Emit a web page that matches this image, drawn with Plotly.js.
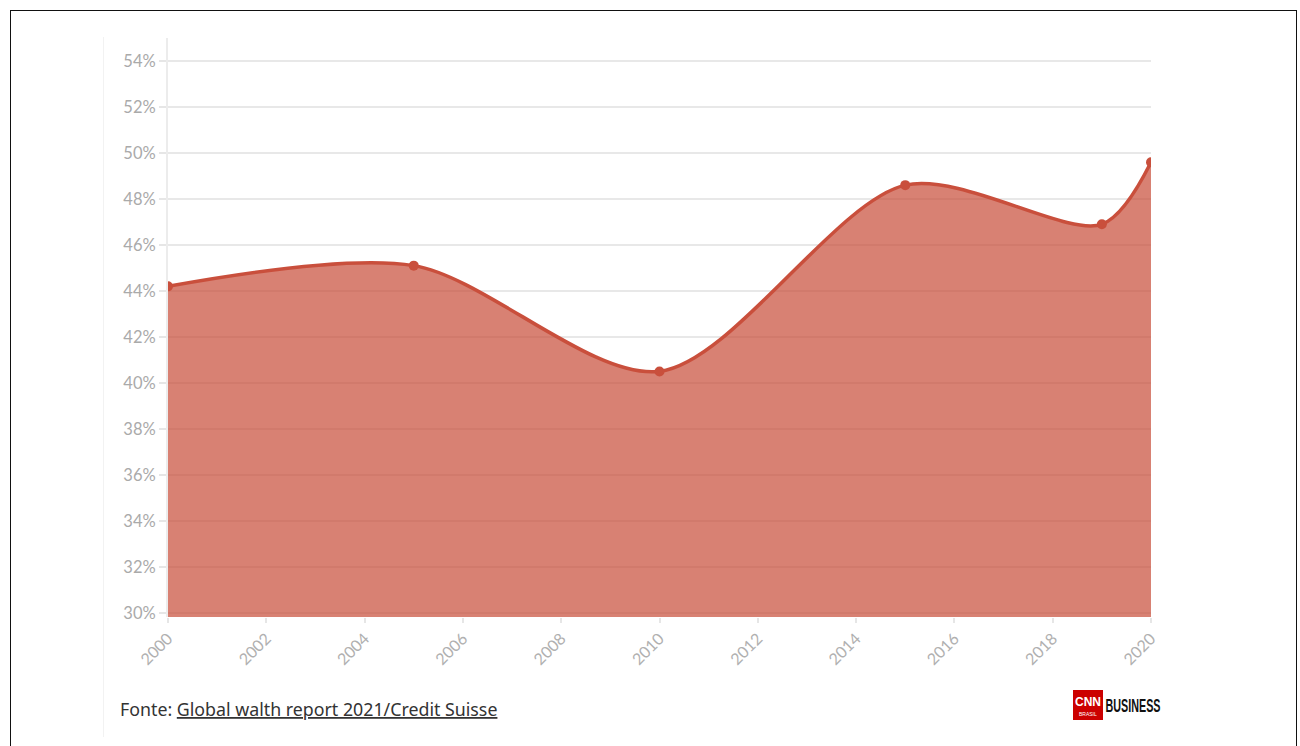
<!DOCTYPE html>
<html>
<head>
<meta charset="utf-8">
<script src="https://cdn.plot.ly/plotly-3.0.1.min.js"></script>
<style>
html,body{margin:0;padding:0;background:#fff;}
#frame{position:absolute;left:10px;top:10px;width:1287px;height:760px;border:1.5px solid #111;box-sizing:border-box;}
#guide{position:absolute;left:103px;top:37px;width:1px;height:700px;background:#f2f2f2;}
#chart{position:absolute;left:0;top:0;width:1300px;height:746px;}
</style>
</head>
<body>
<div id="frame"></div>
<div id="guide"></div>
<div id="chart"></div>
<script>
const years = [2000, 2005, 2010, 2015, 2019, 2020];
const shares = [44.2, 45.1, 40.5, 48.6, 46.9, 49.6];
const yTicks = [30, 32, 34, 36, 38, 40, 42, 44, 46, 48, 50, 52, 54];
const yTickLabels = yTicks.map(v => v + '%');
const xTicks = [2000, 2002, 2004, 2006, 2008, 2010, 2012, 2014, 2016, 2018, 2020];
const sourceText = 'Fonte: <u>Global walth report 2021/Credit Suisse</u>';

const lineColor = '#c94f3c';

const trace = {
  x: years,
  y: shares,
  type: 'scatter',
  mode: 'lines+markers',
  line: {shape: 'spline', smoothing: 0.85, color: lineColor, width: 3.5},
  marker: {size: 10, color: lineColor},
  fill: 'tozeroy',
  fillcolor: 'rgba(200,75,55,0.7)',
  hoverinfo: 'x+y'
};

const W = 983, H = 579, L = 168, T = 38;
const px = p => (p - L) / W;
const py = p => (T + H - p) / H;

const layout = {
  width: 1300, height: 746,
  margin: {l: 168, r: 149, t: 38, b: 129},
  paper_bgcolor: 'rgba(0,0,0,0)',
  plot_bgcolor: 'rgba(0,0,0,0)',
  showlegend: false,
  font: {family: 'Lato, "Noto Sans", sans-serif', color: '#aaaaaa'},
  xaxis: {
    range: [2000, 2020],
    tickvals: xTicks,
    ticktext: xTicks.map(String),
    tickangle: -45,
    showgrid: false,
    zeroline: false,
    showline: false,
    ticks: 'outside',
    ticklen: 5,
    tickwidth: 2,
    tickcolor: '#e6e6e6',
    tickfont: {size: 16, color: '#b0b0b0'}
  },
  yaxis: {
    range: [29.82, 55],
    tickvals: yTicks,
    ticktext: yTickLabels,
    showgrid: true,
    gridcolor: '#e8e8e8',
    gridwidth: 2,
    zeroline: false,
    showline: true,
    linecolor: '#ececec',
    linewidth: 2,
    ticks: 'outside',
    ticklen: 7,
    tickwidth: 2,
    tickcolor: '#e6e6e6',
    tickfont: {size: 16.5, color: '#aaaaaa'}
  },
  shapes: [
    {type: 'rect', xref: 'paper', yref: 'paper',
     x0: px(1073), x1: px(1103), y0: py(720), y1: py(690),
     fillcolor: '#cc0000', line: {width: 0}}
  ],
  annotations: [
    {xref: 'paper', yref: 'paper', x: px(118), y: py(709), xanchor: 'left', yanchor: 'middle',
     text: sourceText, showarrow: false,
     font: {family: '"Noto Sans", Lato, sans-serif', size: 17.8, color: '#333333'}},
    {xref: 'paper', yref: 'paper', x: px(1088), y: py(702), xanchor: 'center', yanchor: 'middle',
     text: '<b>CNN</b>', showarrow: false,
     font: {family: '"Liberation Sans", Arial, sans-serif', size: 12, color: '#ffffff'}},
    {xref: 'paper', yref: 'paper', x: px(1088), y: py(714), xanchor: 'center', yanchor: 'middle',
     text: 'BRASIL', showarrow: false,
     font: {family: '"Liberation Sans", Arial, sans-serif', size: 5, color: '#ffffff'}},
    {xref: 'paper', yref: 'paper', x: px(1132.5), y: py(706), xanchor: 'center', yanchor: 'middle',
     text: '<b>BUSINESS</b>', showarrow: false,
     font: {family: '"Liberation Sans", sans-serif', size: 18, color: '#111111'}}
  ]
};

Plotly.newPlot('chart', [trace], layout, {displayModeBar: false, staticPlot: true}).then(gd => {
  const texts = gd.querySelectorAll('.annotation-text');
  texts.forEach(t => {
    if (t.textContent === 'BUSINESS') {
      t.setAttribute('textLength', '55');
      t.setAttribute('lengthAdjust', 'spacingAndGlyphs');
    }
  });
});
</script>
</body>
</html>
